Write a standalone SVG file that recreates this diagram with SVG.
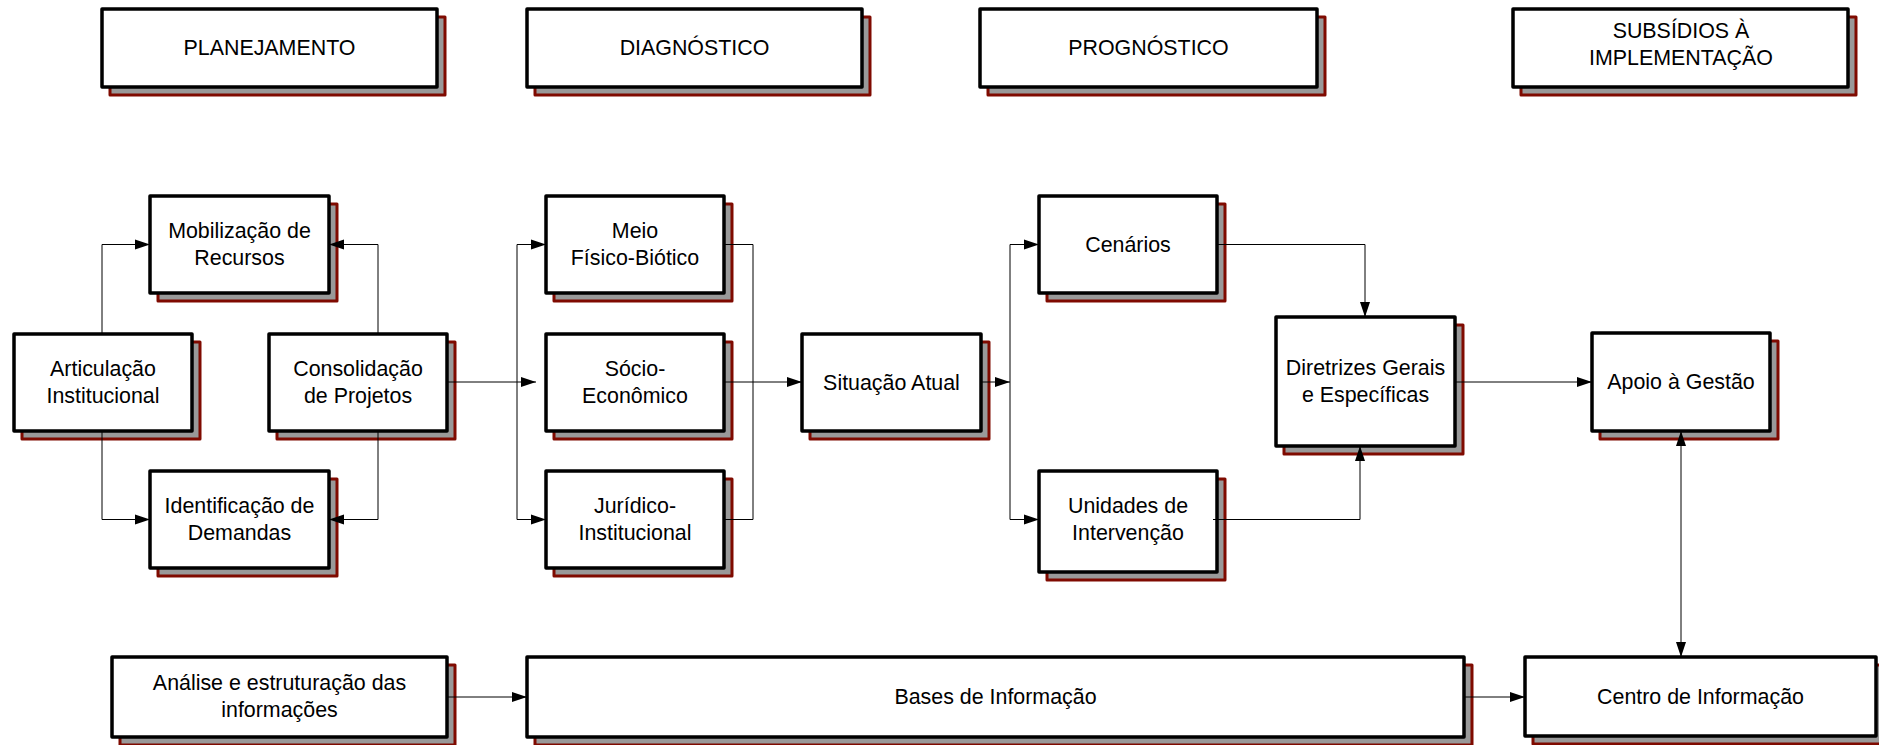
<svg xmlns="http://www.w3.org/2000/svg" width="1879" height="745" viewBox="0 0 1879 745">
<style>
.sh{fill:#999999;stroke:#7f0a00;stroke-width:3;stroke-linejoin:round}
.bx{fill:#ffffff;stroke:#000000;stroke-width:3.5;stroke-linejoin:round}
text{font-family:"Liberation Sans",Arial,sans-serif;font-size:21.4px;fill:#000000;text-anchor:middle}
.c{fill:none;stroke:#000000;stroke-width:1}
.a{marker-end:url(#ah)}
</style>
<defs>
<marker id="ah" markerUnits="userSpaceOnUse" markerWidth="16" markerHeight="12" viewBox="0 0 16 12" refX="15" refY="6" orient="auto-start-reverse">
<path d="M0,1 L15,6 L0,11 z" fill="#000000"/>
</marker>
</defs>
<rect width="1879" height="745" fill="#ffffff"/>

<g id="h-planejamento"><rect class="sh" x="110" y="17" width="335" height="78"/><rect class="bx" x="102" y="9" width="335" height="78"/><text x="269.5" y="55">PLANEJAMENTO</text></g>
<g id="h-diagnostico"><rect class="sh" x="535" y="17" width="335" height="78"/><rect class="bx" x="527" y="9" width="335" height="78"/><text x="694.5" y="55">DIAGNÓSTICO</text></g>
<g id="h-prognostico"><rect class="sh" x="988" y="17" width="337" height="78"/><rect class="bx" x="980" y="9" width="337" height="78"/><text x="1148.5" y="55">PROGNÓSTICO</text></g>
<g id="h-subsidios"><rect class="sh" x="1521" y="17" width="335" height="78"/><rect class="bx" x="1513" y="9" width="335" height="78"/><text x="1681" y="38">SUBSÍDIOS À</text><text x="1681" y="65">IMPLEMENTAÇÃO</text></g>

<g id="mobilizacao"><rect class="sh" x="158" y="204" width="179" height="97"/><rect class="bx" x="150" y="196" width="179" height="97"/><text x="239.5" y="238">Mobilização de</text><text x="239.5" y="265">Recursos</text></g>
<g id="articulacao"><rect class="sh" x="22" y="342" width="178" height="97"/><rect class="bx" x="14" y="334" width="178" height="97"/><text x="103" y="376">Articulação</text><text x="103" y="403">Institucional</text></g>
<g id="consolidacao"><rect class="sh" x="277" y="342" width="178" height="97"/><rect class="bx" x="269" y="334" width="178" height="97"/><text x="358" y="376">Consolidação</text><text x="358" y="403">de Projetos</text></g>
<g id="identificacao"><rect class="sh" x="158" y="479" width="179" height="97"/><rect class="bx" x="150" y="471" width="179" height="97"/><text x="239.5" y="513">Identificação de</text><text x="239.5" y="540">Demandas</text></g>

<g id="meio"><rect class="sh" x="554" y="204" width="178" height="97"/><rect class="bx" x="546" y="196" width="178" height="97"/><text x="635" y="238">Meio</text><text x="635" y="265">Físico-Biótico</text></g>
<g id="socio"><rect class="sh" x="554" y="342" width="178" height="97"/><rect class="bx" x="546" y="334" width="178" height="97"/><text x="635" y="376">Sócio-</text><text x="635" y="403">Econômico</text></g>
<g id="juridico"><rect class="sh" x="554" y="479" width="178" height="97"/><rect class="bx" x="546" y="471" width="178" height="97"/><text x="635" y="513">Jurídico-</text><text x="635" y="540">Institucional</text></g>

<g id="situacao"><rect class="sh" x="810" y="342" width="179" height="97"/><rect class="bx" x="802" y="334" width="179" height="97"/><text x="891.5" y="389.5">Situação Atual</text></g>

<g id="cenarios"><rect class="sh" x="1047" y="204" width="178" height="97"/><rect class="bx" x="1039" y="196" width="178" height="97"/><text x="1128" y="251.5">Cenários</text></g>
<g id="unidades"><rect class="sh" x="1047" y="479" width="178" height="101"/><rect class="bx" x="1039" y="471" width="178" height="101"/><text x="1128" y="513">Unidades de</text><text x="1128" y="540">Intervenção</text></g>
<g id="diretrizes"><rect class="sh" x="1284" y="325" width="179" height="129"/><rect class="bx" x="1276" y="317" width="179" height="129"/><text x="1365.5" y="375">Diretrizes Gerais</text><text x="1365.5" y="402">e Específicas</text></g>

<g id="apoio"><rect class="sh" x="1600" y="341" width="178" height="98"/><rect class="bx" x="1592" y="333" width="178" height="98"/><text x="1681" y="389">Apoio à Gestão</text></g>

<g id="analise"><rect class="sh" x="120" y="665" width="335" height="80"/><rect class="bx" x="112" y="657" width="335" height="80"/><text x="279.5" y="690">Análise e estruturação das</text><text x="279.5" y="717">informações</text></g>
<g id="bases"><rect class="sh" x="535" y="665" width="937" height="80"/><rect class="bx" x="527" y="657" width="937" height="80"/><text x="995.5" y="704">Bases de Informação</text></g>
<g id="centro"><rect class="sh" x="1533" y="665" width="351" height="79"/><rect class="bx" x="1525" y="657" width="351" height="79"/><text x="1700.5" y="704">Centro de Informação</text></g>

<g id="connectors">
<path class="c a" d="M102,334 V244.5 H150"/>
<path class="c a" d="M378,334 V244.5 H329"/>
<path class="c a" d="M102,431 V519.5 H150"/>
<path class="c a" d="M378,431 V519.5 H329"/>
<path class="c a" d="M447,382 H536"/>
<path class="c" d="M517,244.5 V519.5"/>
<path class="c a" d="M517,244.5 H546"/>
<path class="c a" d="M517,519.5 H546"/>
<path class="c" d="M724,244.5 H753 V519.5 H724"/>
<path class="c a" d="M724,382 H802"/>
<path class="c a" d="M981,382 H1010"/>
<path class="c" d="M1010,244.5 V519.5"/>
<path class="c a" d="M1010,244.5 H1039"/>
<path class="c a" d="M1010,519.5 H1039"/>
<path class="c a" d="M1217,244.5 H1365 V317"/>
<path class="c a" d="M1213,519.5 H1360 V446"/>
<path class="c a" d="M1455,382 H1592"/>
<path class="c a" d="M1681,431 V657" marker-start="url(#ah)"/>
<path class="c a" d="M447,697 H527"/>
<path class="c a" d="M1464,697 H1525"/>
</g>
</svg>
